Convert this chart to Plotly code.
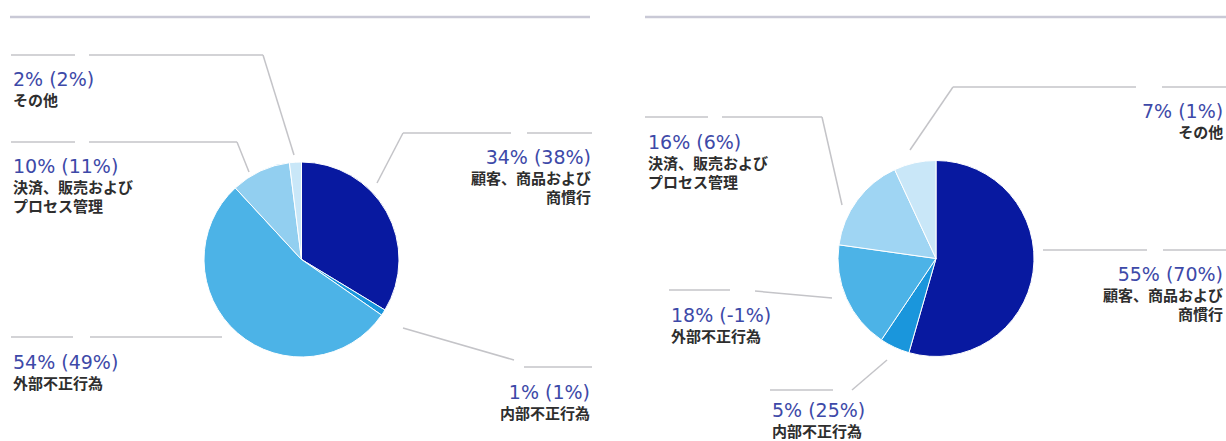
import plotly.graph_objects as go

# ---- data -------------------------------------------------------------
categories = ["顧客、商品および<br>商慣行", "内部不正行為", "外部不正行為",
              "決済、販売および<br>プロセス管理", "その他"]
share_left = [34, 1, 54, 10, 2]       # current share (%)
prev_left = [38, 1, 49, 11, 2]        # figure in parentheses (%)
share_right = [55, 5, 18, 16, 7]
prev_right = [70, 25, -1, 6, 1]

slice_colors = ["#0819a0", "#1a96dc", "#4cb3e7", "#92cff0", "#c9e7f8"]
slice_colors_right = ["#0819a0", "#1a96dc", "#4cb3e7", "#9fd5f3", "#c9e7f8"]

# ---- canvas -------------------------------------------------------------
W, H = 1226, 441


def px(x):
    return x / W


def py(y):
    return 1 - y / H


def square_domain(cx, cy, r):
    return dict(x=[px(cx - r), px(cx + r)], y=[py(cy + r), py(cy - r)])


fig = go.Figure()

fig.add_trace(go.Pie(
    labels=categories, values=share_left, sort=False, direction="clockwise",
    rotation=0, textinfo="none", hoverinfo="label+value",
    marker=dict(colors=slice_colors, line=dict(color="white", width=1)),
    domain=square_domain(301.5, 259.5, 97.5), showlegend=False,
))
fig.add_trace(go.Pie(
    labels=categories, values=share_right, sort=False, direction="clockwise",
    rotation=0, textinfo="none", hoverinfo="label+value",
    marker=dict(colors=slice_colors_right, line=dict(color="white", width=1)),
    domain=square_domain(936, 258.5, 98), showlegend=False,
))

# ---- label placement (pixel layout per slice) -------------------------
# each: text x, anchor side, y of value line, leader polylines
left_place = [
    dict(x=593, side="right", yv=156,
         lines=[[(403, 133), (377, 183)], [(403, 133), (511, 133)], [(527, 133), (592, 133)]]),
    dict(x=592, side="right", yv=391,
         lines=[[(403, 328), (514, 360)], [(524, 367), (592, 367)]]),
    dict(x=11, side="left", yv=361,
         lines=[[(11, 337), (73, 337)], [(90, 337), (222, 337)]]),
    dict(x=11, side="left", yv=165,
         lines=[[(11, 142), (75, 142)], [(89, 142), (237, 142), (249, 172)]]),
    dict(x=11, side="left", yv=78,
         lines=[[(11, 55), (75, 55)], [(89, 55), (263, 55), (294, 155)]]),
]
right_place = [
    dict(x=1225, side="right", yv=273,
         lines=[[(1043, 250), (1147, 250)], [(1163, 250), (1226, 250)]]),
    dict(x=770, side="left", yv=409,
         lines=[[(770, 390), (833, 390)], [(852, 390), (887, 360)]]),
    dict(x=669, side="left", yv=314,
         lines=[[(669, 290), (730, 290)], [(755, 291), (832, 298)]]),
    dict(x=646, side="left", yv=141,
         lines=[[(645, 117), (708, 117)], [(722, 117), (822, 117), (842, 205)]]),
    dict(x=1225, side="right", yv=110,
         lines=[[(910, 150), (953, 87), (1136, 87)], [(1162, 87), (1226, 87)]]),
]

CAT_FONT = dict(family="Noto Sans CJK JP, sans-serif", size=15, color="#2e2e2e", weight="bold")
VALUE_STYLE = ("font-family:'DejaVu Sans','Liberation Sans',sans-serif;"
               "font-size:19px;font-weight:normal;fill:#3d49a8")
LINE_STEP = 15 * 1.3  # plotly line spacing for the base font
LINE_COLOR = "#c4c4c8"

shapes = []
annotations = []


def add_labels(shares, prevs, places):
    for share, prev, cat, pl in zip(shares, prevs, categories, places):
        for poly in pl["lines"]:
            for (x0, y0), (x1, y1) in zip(poly[:-1], poly[1:]):
                shapes.append(dict(type="line", xref="paper", yref="paper",
                                   x0=px(x0), y0=py(y0), x1=px(x1), y1=py(y1),
                                   line=dict(color=LINE_COLOR, width=1.5)))
        n_lines = 1 + cat.count("<br>") + 1
        text = f"<span style=\"{VALUE_STYLE}\">{share}% ({prev}%)</span><br>{cat}"
        y_mid = pl["yv"] + (n_lines - 1) * LINE_STEP / 2 + 1
        annotations.append(dict(
            text=text, x=px(pl["x"]), y=py(y_mid),
            xref="paper", yref="paper", xanchor=pl["side"], yanchor="middle",
            align=pl["side"], showarrow=False, font=CAT_FONT))


add_labels(share_left, prev_left, left_place)
add_labels(share_right, prev_right, right_place)

# header rules above each chart
for x0, x1 in [(10, 590), (645, 1226)]:
    shapes.append(dict(type="line", xref="paper", yref="paper",
                       x0=px(x0), y0=py(17), x1=px(x1), y1=py(17),
                       line=dict(color="#c9c9d6", width=2.5)))

fig.update_layout(
    width=W, height=H, margin=dict(l=0, r=0, t=0, b=0),
    paper_bgcolor="white", plot_bgcolor="white",
    shapes=shapes, annotations=annotations,
)

fig.write_html("out.html")
